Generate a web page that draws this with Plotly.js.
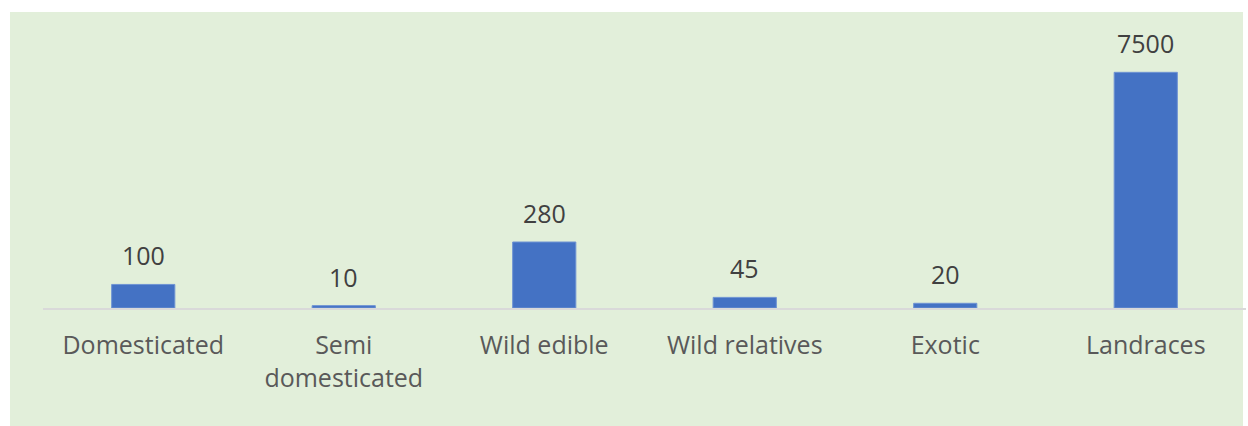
<!DOCTYPE html>
<html>
<head>
<meta charset="utf-8">
<script src="https://cdn.plot.ly/plotly-3.0.1.min.js"></script>
<style>html,body{margin:0;padding:0;background:#fff;}#chart{width:1248px;height:426px;}</style>
</head>
<body>
<div id="chart"></div>
<script>
// Categories (tick labels) and values
const categories = ["Domesticated", "Semi<br>domesticated", "Wild edible", "Wild relatives", "Exotic", "Landraces"];
// bar heights as drawn in the reference
const values = [100, 10, 280, 45, 20, 1000];
// data labels as printed in the reference
const valueLabels = ["100", "10", "280", "45", "20", "7500"];

const FONT = "Open Sans, Noto Sans, sans-serif";

const trace = {
  type: "bar",
  x: categories,
  y: values,
  marker: {color: "#4472C4", line: {color: "#6F93D3", width: 1}},
  hoverinfo: "skip"
};

const annotations = categories.map((c, i) => ({
  x: c, y: values[i], xref: "x", yref: "y",
  text: valueLabels[i], showarrow: false,
  yanchor: "bottom", yshift: 10,
  font: {family: FONT, size: 25, color: "#404040"}
}));

const W = 1248, H = 426;
const m = {l: 43, r: 2, t: 20, b: 118};
const pw = W - m.l - m.r, ph = H - m.t - m.b;
function px2paperX(px){ return (px - m.l) / pw; }
function px2paperY(py){ return (H - m.b - py) / ph; }

const layout = {
  width: W, height: H,
  margin: m,
  paper_bgcolor: "#ffffff",
  plot_bgcolor: "rgba(0,0,0,0)",
  showlegend: false,
  bargap: 0.685,
  shapes: [{
    type: "rect", xref: "paper", yref: "paper", layer: "below",
    x0: px2paperX(10), x1: px2paperX(1243),
    y0: px2paperY(426), y1: px2paperY(12),
    fillcolor: "#E2EFDA", line: {width: 0}
  }],
  xaxis: {
    type: "category",
    showgrid: false, zeroline: false,
    showline: true, linecolor: "#D9D9D9", linewidth: 2,
    ticks: "", ticklabelstandoff: 14,
    tickfont: {family: FONT, size: 25, color: "#595959"}
  },
  yaxis: {
    range: [0, 1222],
    visible: false, showgrid: false, zeroline: false, fixedrange: true
  },
  annotations: annotations
};

Plotly.newPlot("chart", [trace], layout, {displayModeBar: false, staticPlot: true});
</script>
</body>
</html>
